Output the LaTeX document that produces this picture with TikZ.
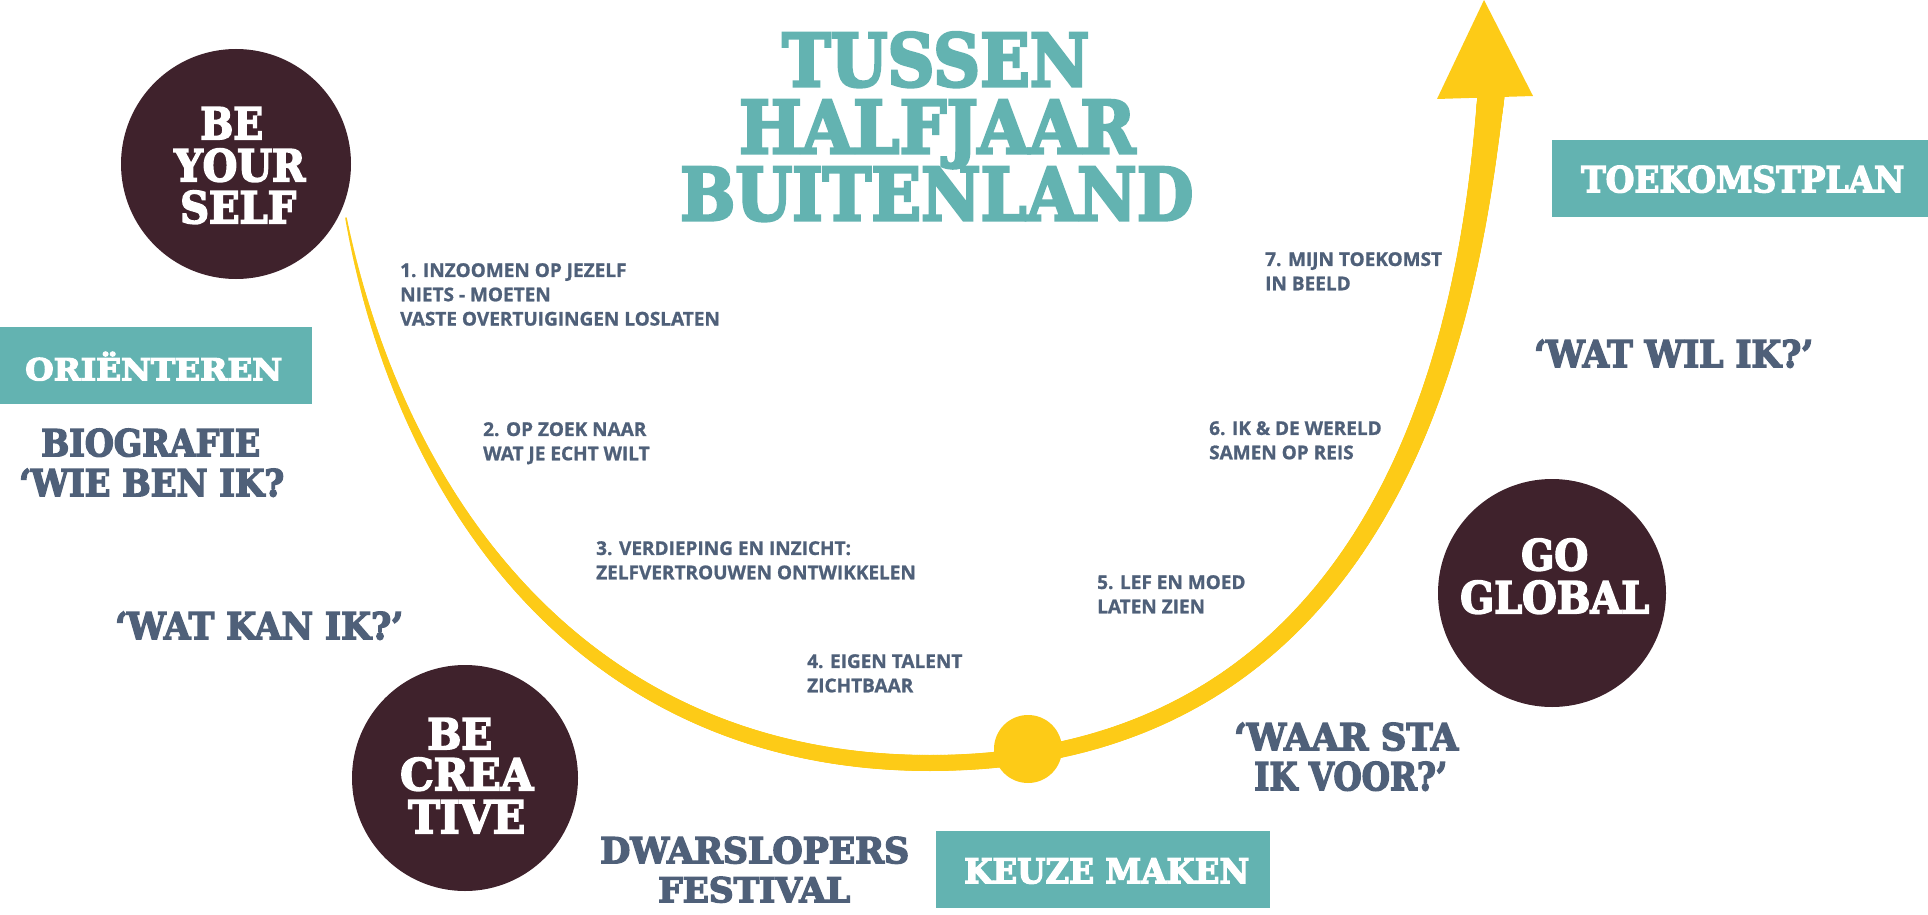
\documentclass[tikz,border=0pt]{standalone}
\usepackage{fontspec}
\usepackage{graphicx}
\setmainfont{DejaVu Serif}[BoldFeatures={FakeBold=4}]
\newfontfamily\smallf{Open Sans}[BoldFeatures={FakeBold=1}]
\definecolor{teal1}{HTML}{63B3B1}
\definecolor{maroon1}{HTML}{3F222C}
\definecolor{slate1}{HTML}{4F6079}
\definecolor{yellow1}{HTML}{FDCB17}
\newcommand\fitbox[3]{\resizebox{#1}{#2}{\smash{#3}\vphantom{H}}}
\begin{document}
\begin{tikzpicture}[x=1pt,y=-1pt,
  slab/.style={font=\bfseries, inner sep=0pt, anchor=north west},
  titletxt/.style={slab, text=teal1},
  whitetxt/.style={slab, text=white},
  slatetxt/.style={slab, text=slate1},
  smalltxt/.style={font=\smallf\bfseries\fontsize{19}{24.3}\selectfont, text=slate1, align=left, inner sep=0pt, anchor=north west},
  bubble/.style={circle, fill=maroon1, minimum size=#1, inner sep=0pt},
  tealbox/.style={fill=teal1, inner sep=0pt, anchor=north west},
  trail/.style={yellow1, line cap=round}
]
\useasboundingbox (0,0) rectangle (1928,915);
\fill[white] (0,0) rectangle (1928,915);

% yellow tapered path: two cubic Bezier pieces
% left: (346,218) .. controls (400,500) and (583,763) .. (930,763)
% right: (930,763) .. controls (1430,763) and (1475,245) .. (1491,96)
\coordinate (cstart) at (346,218);
\coordinate (cbottom) at (930,763);
\coordinate (cend) at (1491,96);
\xdef\crqx{346}\xdef\crqy{218}
\foreach \cri in {1,...,400}{
  \pgfmathsetmacro\crt{\cri/400}
  \pgfmathsetmacro\cru{1-\crt}
  \pgfmathsetmacro\crpx{\cru*\cru*\cru*346+3*\crt*\cru*\cru*400+3*\crt*\crt*\cru*583+\crt*\crt*\crt*930}
  \pgfmathsetmacro\crpy{\cru*\cru*\cru*218+3*\crt*\cru*\cru*500+3*\crt*\crt*\cru*763+\crt*\crt*\crt*763}
  \pgfmathsetmacro\crw{1.5+14.5*(1-\cru*\cru)}
  \draw[trail, line width=\crw pt] (\crqx,\crqy) -- (\crpx,\crpy);
  \xdef\crqx{\crpx}\xdef\crqy{\crpy}
}
\xdef\crqx{930}\xdef\crqy{763}
\foreach \cri in {1,...,400}{
  \pgfmathsetmacro\crt{\cri/400}
  \pgfmathsetmacro\cru{1-\crt}
  \pgfmathsetmacro\crpx{\cru*\cru*\cru*930+3*\crt*\cru*\cru*1430+3*\crt*\crt*\cru*1475+\crt*\crt*\crt*1491}
  \pgfmathsetmacro\crpy{\cru*\cru*\cru*763+3*\crt*\cru*\cru*763+3*\crt*\crt*\cru*245+\crt*\crt*\crt*96}
  \pgfmathsetmacro\crw{16+11*\crt*\crt}
  \draw[trail, line width=\crw pt] (\crqx,\crqy) -- (\crpx,\crpy);
  \xdef\crqx{\crpx}\xdef\crqy{\crpy}
}
\coordinate (tip) at (1484,0);
\coordinate (hl) at (1437,99);
\coordinate (hr) at (1533,96);
\fill[yellow1] (tip) -- (hl) -- (hr) -- cycle;
\node[circle, fill=yellow1, minimum size=68pt, inner sep=0pt] (dot) at (1028,749) {};

% title
\node[titletxt] (t1) at (782,33) {\fitbox{307pt}{53pt}{TUSSEN}};
\node[titletxt] (t2) at (739,100) {\fitbox{396pt}{53pt}{HALFJAAR}};
\node[titletxt] (t3) at (680,167) {\fitbox{513pt}{53pt}{BUITENLAND}};

% bubbles
\node[bubble=230pt] (bys) at (236,164) {};
\node[whitetxt] (bys1) at (200,107) {\fitbox{63pt}{32pt}{BE}};
\node[whitetxt] (bys2) at (174,149) {\fitbox{131pt}{32pt}{YOUR}};
\node[whitetxt] (bys3) at (180,191) {\fitbox{116pt}{32pt}{SELF}};

\node[bubble=226pt] (bc) at (465,778) {};
\node[whitetxt] (bc1) at (427,718) {\fitbox{65pt}{31pt}{BE}};
\node[whitetxt] (bc2) at (400,758) {\fitbox{133pt}{32pt}{CREA}};
\node[whitetxt] (bc3) at (408,800) {\fitbox{117pt}{33pt}{TIVE}};

\node[bubble=228pt] (gg) at (1552,593) {};
\node[whitetxt] (gg1) at (1521,539) {\fitbox{67pt}{31pt}{GO}};
\node[whitetxt] (gg2) at (1460,581) {\fitbox{189pt}{32pt}{GLOBAL}};

% teal boxes
\node[tealbox, minimum width=312pt, minimum height=77pt] (orbox) at (0,327) {};
\node[whitetxt] (ortxt) at (25,358) {\fitbox{257pt}{22pt}{ORIËNTEREN}};
\node[tealbox, minimum width=376pt, minimum height=77pt] (tkbox) at (1552,140) {};
\node[whitetxt] (tktxt) at (1581,166) {\fitbox{323pt}{26pt}{TOEKOMSTPLAN}};
\node[tealbox, minimum width=334pt, minimum height=77pt] (kmbox) at (936,831) {};
\node[whitetxt] (kmtxt) at (964,858) {\fitbox{285pt}{25pt}{KEUZE MAKEN}};

% slate slab texts
\node[slatetxt] (bio1) at (41,429) {\fitbox{219pt}{27pt}{BIOGRAFIE}};
\node[slatetxt] (bio2) at (19,469) {\fitbox{265pt}{27pt}{‘WIE BEN IK?}};
\node[slatetxt] (wki) at (115,612) {\fitbox{288pt}{27pt}{‘WAT KAN IK?’}};
\node[slatetxt] (wwi) at (1534,340) {\fitbox{279pt}{27pt}{‘WAT WIL IK?’}};
\node[slatetxt] (ws1) at (1234,723) {\fitbox{224pt}{27pt}{‘WAAR STA}};
\node[slatetxt] (ws2) at (1254,762) {\fitbox{193pt}{28pt}{IK VOOR?’}};
\node[slatetxt] (dw1) at (600,837) {\fitbox{309pt}{26pt}{DWARSLOPERS}};
\node[slatetxt] (dw2) at (658,877) {\fitbox{192pt}{25pt}{FESTIVAL}};

% step labels
\node[smalltxt] (s1) at (400,263) {1. INZOOMEN OP JEZELF\\NIETS - MOETEN\\VASTE OVERTUIGINGEN LOSLATEN};
\node[smalltxt] (s2) at (483,422) {2. OP ZOEK NAAR\\WAT JE ECHT WILT};
\node[smalltxt] (s3) at (596,541) {3. VERDIEPING EN INZICHT:\\ZELFVERTROUWEN ONTWIKKELEN};
\node[smalltxt] (s4) at (807,654) {4. EIGEN TALENT\\ZICHTBAAR};
\node[smalltxt] (s5) at (1097,575) {5. LEF EN MOED\\LATEN ZIEN};
\node[smalltxt] (s6) at (1209,421) {6. IK \& DE WERELD\\SAMEN OP REIS};
\node[smalltxt] (s7) at (1265,252) {7. MIJN TOEKOMST\\IN BEELD};
\end{tikzpicture}
\end{document}
